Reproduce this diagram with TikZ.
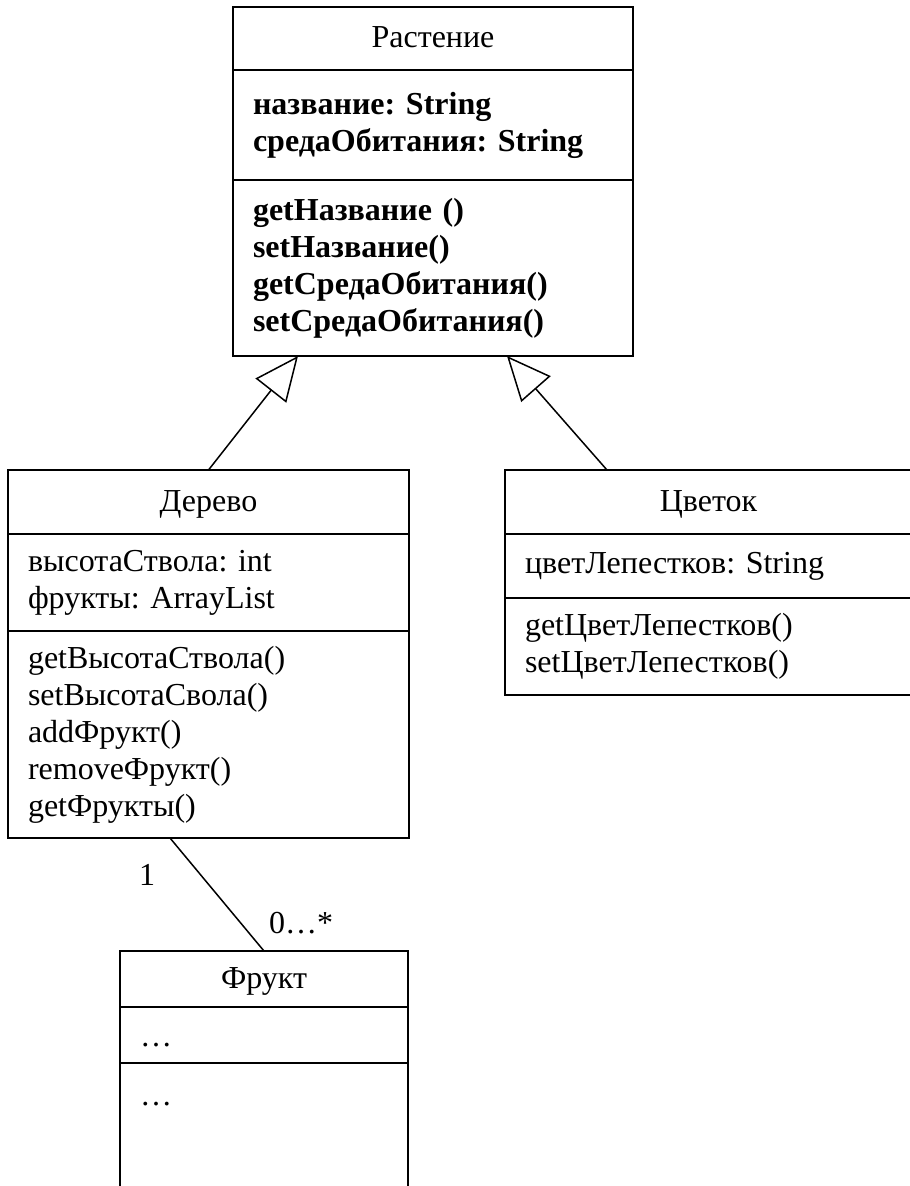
\documentclass[tikz,border=0pt]{standalone}
\usepackage{fontspec}
\setmainfont{Liberation Serif}
\usetikzlibrary{arrows.meta}
\newcommand{\umlfont}{\fontsize{32pt}{37pt}\selectfont\frenchspacing}

\begin{document}
\begin{tikzpicture}[
    x=1pt, y=-1pt,
    headbox/.style={draw, line width=2pt, outer sep=0pt, anchor=north west, inner xsep=20pt, inner ysep=0pt, align=center, font=\umlfont, text height=22pt, text depth=4pt},
    partbox/.style={draw, line width=2pt, outer sep=0pt, anchor=north west, inner xsep=20pt, inner ysep=0pt, align=left, font=\umlfont},
    inherit/.style={-{Triangle[open, length=44pt, width=39pt]}, line width=1.5pt},
    assoc/.style={line width=1.5pt},
    mult/.style={font=\umlfont, inner sep=0pt, anchor=base}
]

\useasboundingbox (0,0) rectangle (910,1186);

% Class: Растение
\node[headbox, text width=360pt, minimum height=63pt] (plantname) at (233,7) {Растение};
\node[partbox, text width=360pt, minimum height=110pt, font=\umlfont\bfseries] (plantattr) at (plantname.south west) {название: String\\средаОбитания: String};
\node[partbox, text width=360pt, minimum height=176pt, font=\umlfont\bfseries] (plantops) at (plantattr.south west) {getНазвание ()\\setНазвание()\\getСредаОбитания()\\setСредаОбитания()};

% Class: Дерево
\node[headbox, text width=361pt, minimum height=64pt] (treename) at (8,470) {Дерево};
\node[partbox, text width=361pt, minimum height=97pt] (treeattr) at (treename.south west) {высотаСтвола: int\\фрукты: ArrayList};
\node[partbox, text width=361pt, minimum height=207pt] (treeops) at (treeattr.south west) {getВысотаСтвола()\\setВысотаСвола()\\addФрукт()\\removeФрукт()\\getФрукты()};

% Class: Цветок
\node[headbox, text width=367pt, minimum height=64pt] (flowername) at (505,470) {Цветок};
\node[partbox, text width=367pt, minimum height=64pt] (flowerattr) at (flowername.south west) {цветЛепестков: String};
\node[partbox, text width=367pt, minimum height=97pt] (flowerops) at (flowerattr.south west) {getЦветЛепестков()\\setЦветЛепестков()};

% Class: Фрукт
\node[headbox, text width=248pt, minimum height=56pt] (fruitname) at (120,951) {Фрукт};
\node[partbox, text width=248pt, minimum height=56pt, text height=22pt, text depth=0pt] (fruitattr) at (fruitname.south west) {…};
\node[partbox, text width=248pt, minimum height=200pt, text height=42pt, text depth=158pt] (fruitops) at (fruitattr.south west) {…};

% Generalization
\draw[inherit] (treename.north) -- ([xshift=-135pt]plantops.south);
\draw[inherit] ([xshift=102pt]flowername.north west) -- ([xshift=74pt]plantops.south);

% Association
\draw[assoc] ([xshift=-38.5pt]treeops.south) -- (fruitname.north);
\node[mult] (multone) at (147,885) {1};
\node[mult] (multmany) at (301,933) {0…*};

\end{tikzpicture}
\end{document}
